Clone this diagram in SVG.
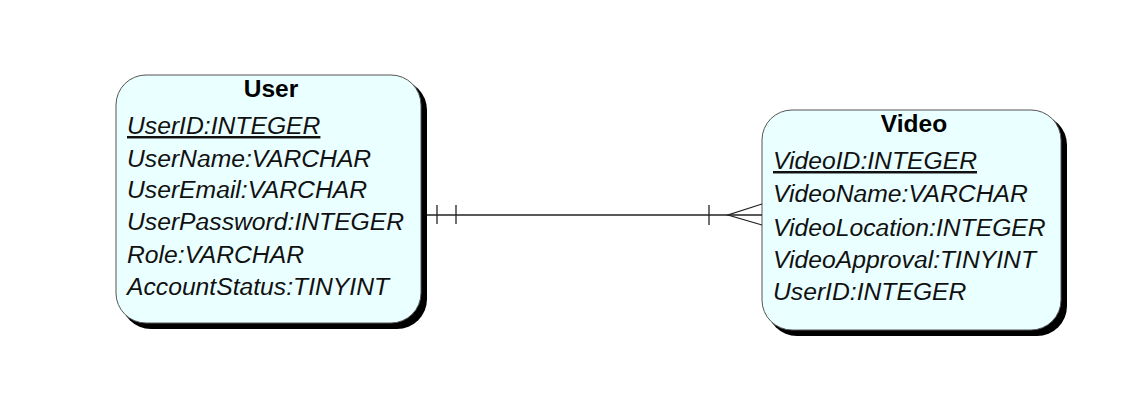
<svg xmlns="http://www.w3.org/2000/svg" width="1148" height="418" viewBox="0 0 1148 418">
  <style>
    .shadow { fill: #000; }
    .box { fill: #eaffff; stroke: #555; stroke-width: 1; }
    .title { font-family: "Liberation Sans", Arial, sans-serif; font-weight: bold; font-size: 24.5px; fill: #000; text-anchor: middle; }
    .attr { font-family: "Liberation Sans", Arial, sans-serif; font-style: italic; font-size: 24.7px; fill: #111; }
    .key { text-decoration: underline; }
    .line { stroke: #222; stroke-width: 1.3; fill: none; }
  </style>
  <rect width="1148" height="418" fill="#fff"/>

  <g id="user">
    <rect class="shadow" x="121" y="80" width="306" height="249" rx="30" ry="30"/>
    <rect class="box" x="116" y="75" width="305" height="248" rx="30" ry="30"/>
    <text class="title" x="271" y="97">User</text>
    <text class="attr key" x="127" y="134">UserID:INTEGER</text>
    <text class="attr" x="127" y="167">UserName:VARCHAR</text>
    <text class="attr" x="127" y="198">UserEmail:VARCHAR</text>
    <text class="attr" x="127" y="230">UserPassword:INTEGER</text>
    <text class="attr" x="127" y="263">Role:VARCHAR</text>
    <text class="attr" x="127" y="295">AccountStatus:TINYINT</text>
  </g>

  <g id="video">
    <rect class="shadow" x="767" y="115" width="300" height="221" rx="30" ry="30"/>
    <rect class="box" x="762" y="110" width="299" height="220" rx="30" ry="30"/>
    <text class="title" x="914" y="132">Video</text>
    <text class="attr key" x="773" y="169">VideoID:INTEGER</text>
    <text class="attr" x="773" y="202">VideoName:VARCHAR</text>
    <text class="attr" x="773" y="236">VideoLocation:INTEGER</text>
    <text class="attr" x="773" y="268">VideoApproval:TINYINT</text>
    <text class="attr" x="773" y="300">UserID:INTEGER</text>
  </g>

  <g id="connectors">
    <line class="line" x1="427" y1="215" x2="762" y2="215"/>
    <!-- one-and-only-one end at User -->
    <line class="line" x1="437" y1="205" x2="437" y2="224"/>
    <line class="line" x1="456" y1="205" x2="456" y2="224"/>
    <!-- one-or-many end at Video -->
    <line class="line" x1="709" y1="205" x2="709" y2="225"/>
    <polyline class="line" points="762,204 728,215 762,225"/>
  </g>
</svg>
